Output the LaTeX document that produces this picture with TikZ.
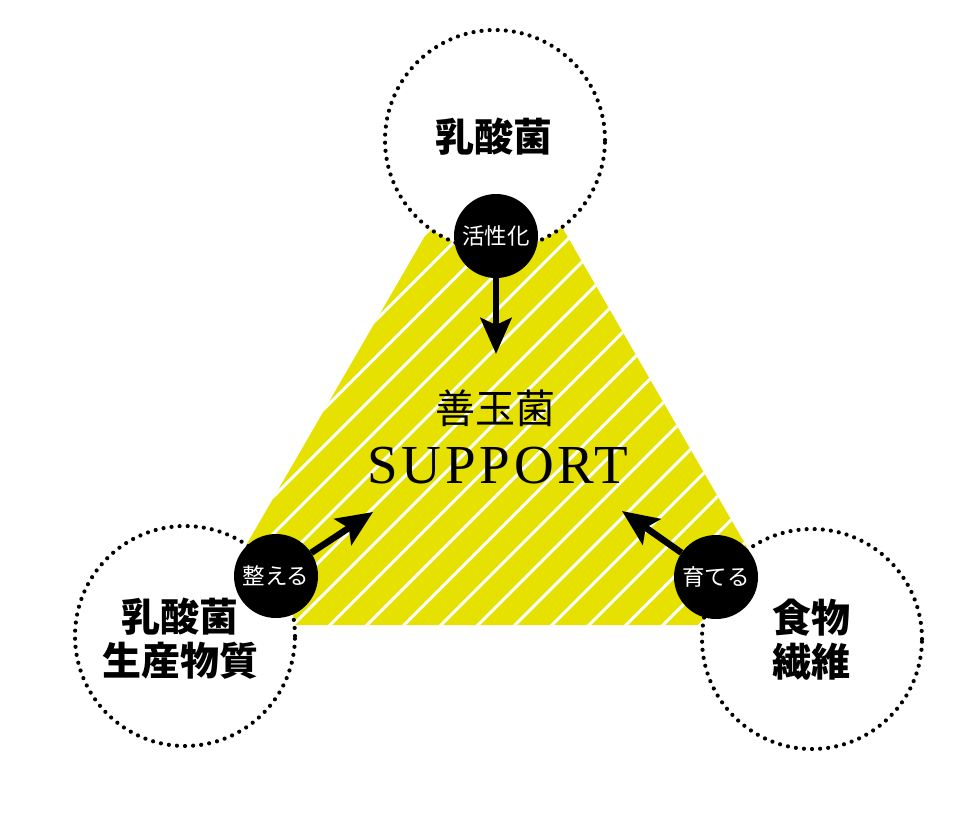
\documentclass[tikz,border=0pt]{standalone}
\usepackage{fontspec}
\setmainfont{Liberation Serif}
\newfontfamily\cjk{Noto Sans CJK JP}
\newfontfamily\suppfont[LetterSpace=7]{Liberation Serif}
\usetikzlibrary{arrows.meta}
\definecolor{ylw}{RGB}{230,225,0}
\tikzset{
  dotc/.style={circle, minimum size=220pt, inner sep=0pt, fill=white, draw=black,
    line width=4.2pt, line cap=round, dash pattern=on 0pt off 8.1pt},
  actc/.style={circle, minimum size=84pt, inner sep=0pt, fill=black, text=white,
    font=\cjk\fontsize{22.5}{22.5}\selectfont},
  biglabel/.style={align=center, inner sep=0pt, font=\cjk\bfseries\fontsize{39}{44}\selectfont},
  arr/.style={line width=6.5pt, -{Stealth[length=36pt,width=31pt,inset=7pt]}},
  stripe/.style={white, line width=3pt}
}
\begin{document}
\begin{tikzpicture}[x=1pt,y=-1pt]
\useasboundingbox[fill=white] (0,0) rectangle (960,814);
% triangle
\coordinate (apex) at (496,113);
\coordinate (bl) at (200,625);
\coordinate (br) at (792,625);
\fill[ylw] (apex) -- (bl) -- (br) -- cycle;
\begin{scope}
  \clip (apex) -- (bl) -- (br) -- cycle;
  \foreach \k in {-12,...,16} {
    \draw[stripe] ({293+37*\k-120},745) -- ({293+37*\k+620},5);
  }
\end{scope}
% dotted circles
\node[dotc] (c1) at (495,140) {};
\node[dotc] (c2) at (185,636) {};
\node[dotc] (c3) at (812,639) {};
\node[biglabel] (t1) at (494,137) {乳酸菌};
\node[biglabel] (t2) at (180,639) {乳酸菌\\生産物質};
\node[biglabel] (t3) at (811,640) {食物\\繊維};
% center text
\node[inner sep=0pt, font=\cjk\fontsize{40}{40}\selectfont] (zen) at (495,408) {善玉菌};
\node[inner sep=0pt, font=\suppfont\fontsize{55}{55}\selectfont] (sup) at (498,466) {SUPPORT};
% action circles and arrows
\coordinate (tipA) at (496,354);
\coordinate (tipB) at (373,512);
\coordinate (tipC) at (622,511);
\node[actc] (act) at (496,236) {活性化};
\node[actc] (adj) at (276,576) {整える};
\node[actc] (grw) at (716,577) {育てる};
\draw[arr] (act) -- (tipA);
\draw[arr] (adj) -- (tipB);
\draw[arr] (grw) -- (tipC);
\end{tikzpicture}
\end{document}
